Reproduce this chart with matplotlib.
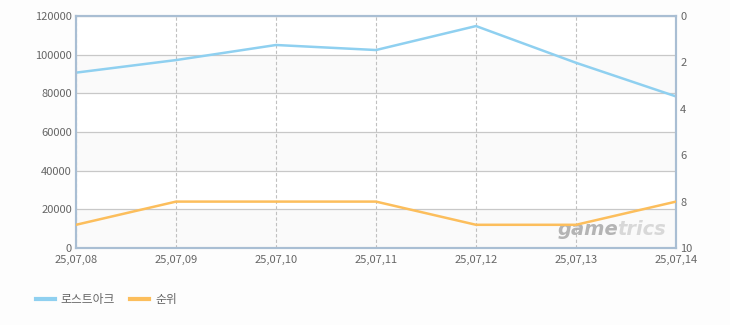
import matplotlib.pyplot as plt

plt.rcParams['font.family'] = ['Noto Sans CJK KR', 'DejaVu Sans']

dates = ['25,07,08', '25,07,09', '25,07,10', '25,07,11', '25,07,12', '25,07,13', '25,07,14']
users = [90700, 97200, 105000, 102400, 114800, 95800, 78400]
ranks = [9, 8, 8, 8, 9, 9, 8]

blue = '#8fd0f0'
orange = '#fcbe5c'
frame = '#a9bed3'
label_col = '#666666'

fig = plt.figure(figsize=(7.3, 3.25), dpi=100, facecolor='#fdfdfd')
ax = fig.add_axes([76/730, 77/325, 600/730, 232/325])
ax.set_facecolor('#ffffff')

x = list(range(len(dates)))

# alternating bands
for i, lo in enumerate(range(0, 120000, 20000)):
    if i % 2 == 0:
        ax.axhspan(lo, lo + 20000, color='#fafafa', zorder=0, lw=0)

ax.set_xlim(0, len(dates) - 1)
ax.set_ylim(0, 120000)
ax.set_yticks(range(0, 120001, 20000))
ax.set_xticks(x)
ax.set_xticklabels(dates)
ax.grid(axis='y', color='#c8c8c8', lw=0.9, ls='-', zorder=1)
ax.grid(axis='x', color='#c0c0c0', lw=0.8, ls=(0, (3, 2)), zorder=1)
ax.tick_params(axis='y', length=0, labelsize=8, labelcolor=label_col, pad=3)
ax.tick_params(axis='x', length=0, labelsize=8, labelcolor=label_col, pad=5)
for s in ax.spines.values():
    s.set_color(frame)
    s.set_linewidth(1.5)

ax.plot(x, users, color=blue, lw=1.8, zorder=3, label='로스트아크')

ax2 = ax.twinx()
ax2.set_ylim(10, 0)
ax2.set_yticks(range(0, 11, 2))
ax2.tick_params(length=0, labelsize=8, labelcolor=label_col, pad=3)
for s in ax2.spines.values():
    s.set_color(frame)
    s.set_linewidth(1.5)
ax2.plot(x, ranks, color=orange, lw=1.8, zorder=3, label='순위')

# watermark
ax.text(0.803, 0.08, 'game', transform=ax.transAxes, fontsize=14, fontweight='bold',
        style='italic', color='#a8a8a8', alpha=0.85, family='DejaVu Sans', ha='left', va='center')
ax.text(0.902, 0.08, 'trics', transform=ax.transAxes, fontsize=14, fontweight='bold',
        style='italic', color='#d2d2d2', alpha=0.85, family='DejaVu Sans', ha='left', va='center')

h1, l1 = ax.get_legend_handles_labels()
h2, l2 = ax2.get_legend_handles_labels()
leg = fig.legend(h1 + h2, l1 + l2, loc='lower left', bbox_to_anchor=(25/730, 8/325), ncol=2,
                 frameon=False, fontsize=8.5, labelcolor=label_col, handlelength=1.6,
                 handletextpad=0.5, columnspacing=1.3)
for line in leg.get_lines():
    line.set_linewidth(3)

fig.savefig('out.png', dpi=100, facecolor=fig.get_facecolor())
